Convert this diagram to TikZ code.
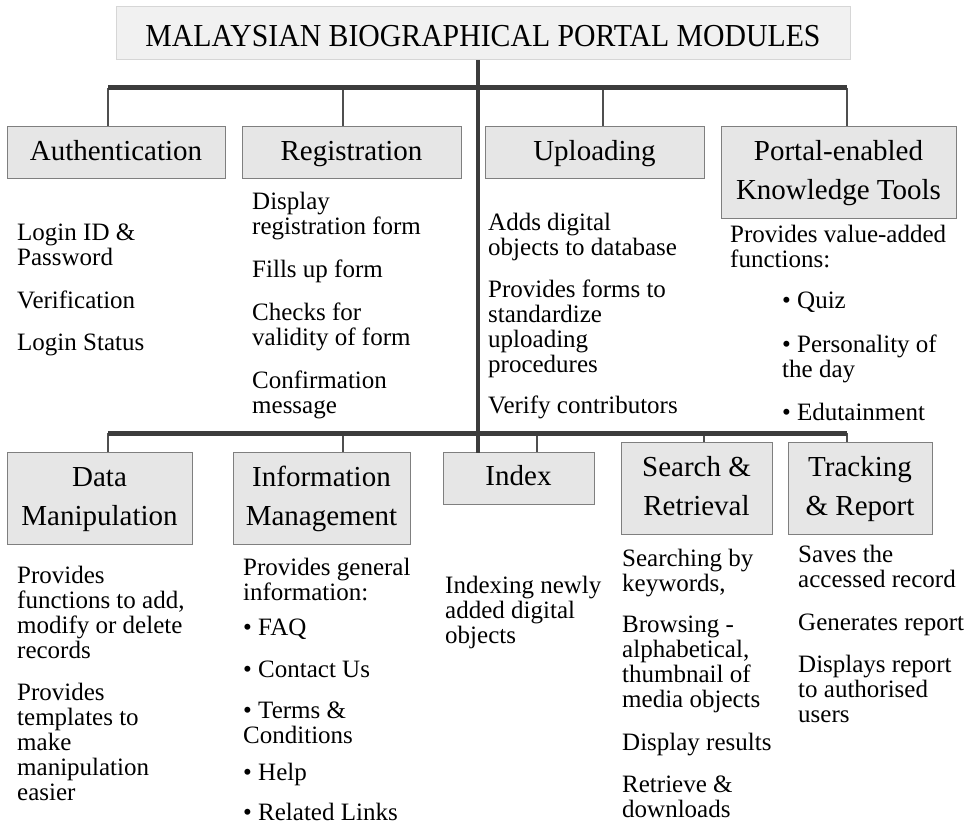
\documentclass[tikz,border=0pt]{standalone}
\usepackage{fontspec}
\setmainfont{Liberation Serif}
\usepackage{graphicx}
\usetikzlibrary{calc}
\definecolor{boxfill}{HTML}{E6E6E6}
\definecolor{boxline}{HTML}{7F7F7F}
\definecolor{titlefill}{HTML}{F1F1F1}
\definecolor{titleline}{HTML}{D6D6D6}
\definecolor{busline}{HTML}{3C3C3C}
\definecolor{dropline}{HTML}{4F4F4F}
\newcommand{\bodyfont}{\fontsize{25}{25}\selectfont}
\newcommand{\labfont}{\fontsize{29}{39}\selectfont}
\newcommand{\ttlfont}{\fontsize{32}{36}\selectfont}
\newcommand{\para}[1]{\begin{tabular}[t]{@{}l@{}}#1\end{tabular}}
\newcommand{\lab}[1]{\begin{tabular}{@{}c@{}}#1\end{tabular}}
\begin{document}
\begin{tikzpicture}[x=1pt,y=-1pt,
  modbox/.style={draw=boxline, fill=boxfill, line width=1pt, inner sep=0pt, font=\labfont},
  titlebox/.style={draw=titleline, fill=titlefill, line width=1pt, inner sep=0pt, font=\ttlfont},
  txt/.style={anchor=base west, inner sep=0pt, font=\bodyfont},
  bus/.style={draw=busline, line width=5pt},
  trunk/.style={draw=busline, line width=4pt},
  drop/.style={draw=dropline, line width=1.3pt}]
\useasboundingbox (0,0) rectangle (975,824);
\fill[white] (0,0) rectangle (975,824);

% title
\node[titlebox, minimum width=734pt, minimum height=53pt, text height=27pt, text depth=0pt] (title) at (483,33.5)
  {\scalebox{0.93}[1]{MALAYSIAN BIOGRAPHICAL PORTAL MODULES}};

% top row boxes
\node[modbox, minimum width=218pt, minimum height=52pt] (auth) at (116,153) {\lab{Authentication}};
\node[modbox, minimum width=219pt, minimum height=52pt] (reg) at (351.5,153) {\lab{Registration}};
\node[modbox, minimum width=219pt, minimum height=52pt] (upl) at (594.5,153) {\lab{Uploading}};
\node[modbox, minimum width=235pt, minimum height=91pt] (port) at (838.5,172.5) {\lab{Portal-enabled\\Knowledge Tools}};

% bottom row boxes
\node[modbox, minimum width=185pt, minimum height=92pt] (data) at (99.5,498) {\lab{Data\\Manipulation}};
\node[modbox, minimum width=177pt, minimum height=92pt] (info) at (321.5,498) {\lab{Information\\Management}};
\node[modbox, minimum width=151pt, minimum height=52pt] (idx) at (518.5,478) {\lab{Index}};
\node[modbox, minimum width=151pt, minimum height=92pt] (srch) at (696.5,488) {\lab{Search \&\\Retrieval}};
\node[modbox, minimum width=144pt, minimum height=92pt] (trk) at (860,488) {\lab{Tracking\\\& Report}};

% connector coordinates
\coordinate (tb1) at (108,88);
\coordinate (tb2) at (343,88);
\coordinate (tb3) at (603,88);
\coordinate (tb4) at (847,88);
\coordinate (lb1) at (108,433);
\coordinate (lb2) at (343,433);
\coordinate (lb3) at (537,433);
\coordinate (lb4) at (704,433);
\coordinate (lb5) at (847,433);
\coordinate (tk) at (478,453);

% drops
\draw[drop] (tb1) -- (tb1 |- auth.north);
\draw[drop] (tb2) -- (tb2 |- reg.north);
\draw[drop] (tb3) -- (tb3 |- upl.north);
\draw[drop] (tb4) -- (tb4 |- port.north);
\draw[drop] (lb1) -- (lb1 |- data.north);
\draw[drop] (lb2) -- (lb2 |- info.north);
\draw[drop] (lb3) -- (lb3 |- idx.north);
\draw[drop] (lb4) -- (lb4 |- srch.north);
\draw[drop] (lb5) -- (lb5 |- trk.north);

% buses and trunk
\draw[bus] (tb1) -- (tb4);
\draw[bus] (lb1) -- (lb5);
\draw[trunk] (tk |- title.south) -- (tk);

% Authentication texts
\node[txt] (a1) at (17,240) {\para{Login ID \&\\Password}};
\node[txt] (a2) at (17,308) {\para{Verification}};
\node[txt] (a3) at (17,350) {\para{Login Status}};

% Registration texts
\node[txt] (r1) at (252,209) {\para{Display\\registration form}};
\node[txt] (r2) at (252,277) {\para{Fills up form}};
\node[txt] (r3) at (252,320) {\para{Checks for\\validity of form}};
\node[txt] (r4) at (252,388) {\para{Confirmation\\message}};

% Uploading texts
\node[txt] (u1) at (488,230) {\para{Adds digital\\objects to database}};
\node[txt] (u2) at (488,297) {\para{Provides forms to\\standardize\\uploading\\procedures}};
\node[txt] (u3) at (488,413) {\para{Verify contributors}};

% Portal texts
\node[txt] (p1) at (730,242) {\para{Provides value-added\\functions:}};
\node[txt] (p2) at (782,308) {\para{\textbullet\ Quiz}};
\node[txt] (p3) at (782,352) {\para{\textbullet\ Personality of\\the day}};
\node[txt] (p4) at (782,420) {\para{\textbullet\ Edutainment}};

% Data Manipulation texts
\node[txt] (d1) at (17,583) {\para{Provides\\functions to add,\\modify or delete\\records}};
\node[txt] (d2) at (17,700) {\para{Provides\\templates to\\make\\manipulation\\easier}};

% Information Management texts
\node[txt] (i1) at (243,575) {\para{Provides general\\information:}};
\node[txt] (i2) at (243,635) {\para{\textbullet\ FAQ}};
\node[txt] (i3) at (243,677) {\para{\textbullet\ Contact Us}};
\node[txt] (i4) at (243,718) {\para{\textbullet\ Terms \&\\Conditions}};
\node[txt] (i5) at (243,780) {\para{\textbullet\ Help}};
\node[txt] (i6) at (243,820) {\para{\textbullet\ Related Links}};

% Index texts
\node[txt] (x1) at (445,593) {\para{Indexing newly\\added digital\\objects}};

% Search texts
\node[txt] (s1) at (622,566) {\para{Searching by\\keywords,}};
\node[txt] (s2) at (622,632) {\para{Browsing -\\alphabetical,\\thumbnail of\\media objects}};
\node[txt] (s3) at (622,750) {\para{Display results}};
\node[txt] (s4) at (622,792) {\para{Retrieve \&\\downloads}};

% Tracking texts
\node[txt] (t1) at (798,562) {\para{Saves the\\accessed record}};
\node[txt] (t2) at (798,630) {\para{Generates report}};
\node[txt] (t3) at (798,672) {\para{Displays report\\to authorised\\users}};
\end{tikzpicture}
\end{document}
